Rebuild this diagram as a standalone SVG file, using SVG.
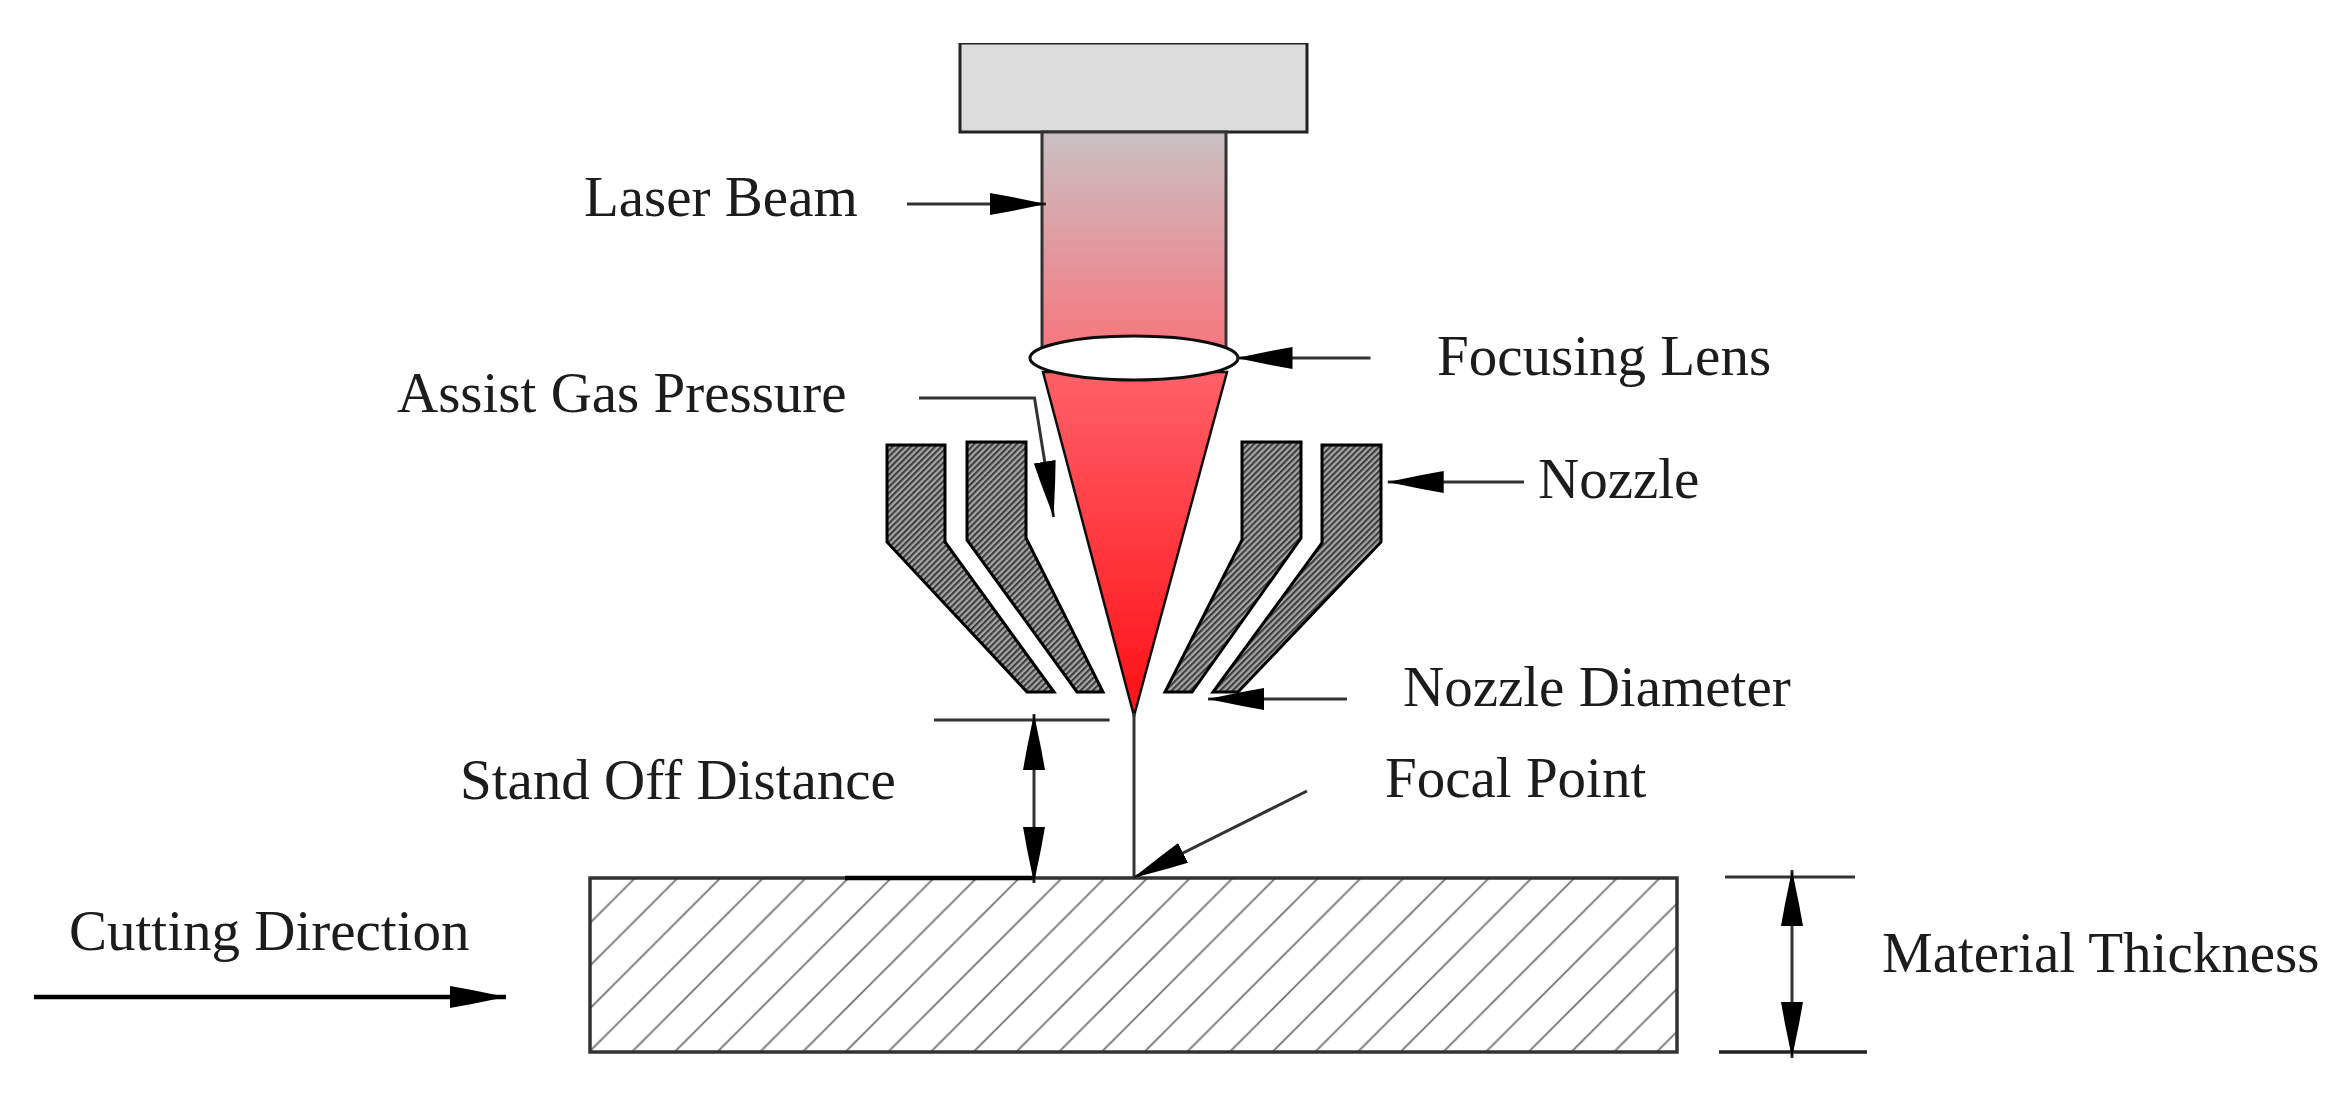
<svg xmlns="http://www.w3.org/2000/svg" width="2348" height="1113" viewBox="0 0 2348 1113">
<style>
text{font-family:"Liberation Serif","Times New Roman",serif;font-size:57px;fill:#1a1a1a}
.ln{fill:none;stroke:#333;stroke-width:3}
.hv{stroke:#000;stroke-width:4.500}
.md{stroke:#222;stroke-width:3.500}
.ar{marker-end:url(#ah)}
.db{marker-start:url(#ahs);marker-end:url(#ah)}
.noz{fill:url(#nh);stroke:#000;stroke-width:3}
</style>
<defs>
<filter id="soft" x="0" y="0" width="100%" height="100%" filterUnits="objectBoundingBox"><feGaussianBlur stdDeviation="0.7"/></filter>
<marker id="ah" markerUnits="userSpaceOnUse" markerWidth="58" markerHeight="26" refX="56" refY="13" orient="auto"><path d="M0 2V24L22 20L56 13L22 6Z" fill="#000"/></marker>
<marker id="ahs" markerUnits="userSpaceOnUse" markerWidth="58" markerHeight="26" refX="2" refY="13" orient="auto"><path d="M58 2V24L36 20L2 13L36 6Z" fill="#000"/></marker>
<linearGradient id="beam" x1="0" y1="0" x2="0" y2="1"><stop offset="0" stop-color="#c9c1c5"/><stop offset="1" stop-color="#f9737a"/></linearGradient>
<linearGradient id="cone" x1="0" y1="0" x2="0" y2="1"><stop offset="0" stop-color="#ff6068"/><stop offset="1" stop-color="#ff1015"/></linearGradient>
<pattern id="nh" patternUnits="userSpaceOnUse" width="4.300" height="4.300" patternTransform="rotate(-45)"><rect width="4.300" height="4.300" fill="#a6a6a6"/><rect width="4.300" height="2.100" fill="#3e3e3e"/></pattern>
<pattern id="mh" patternUnits="userSpaceOnUse" width="42.700" height="42.700"><path d="M-1 19.500L19.500 -1M-1 62.200L62.200 -1" stroke="#777" stroke-width="1.800" fill="none"/></pattern>
</defs>
<rect width="2348" height="1113" fill="#fff"/>
<g filter="url(#soft)">
<g id="laser-head"><rect x="960" y="43" width="347" height="89" fill="#dcdcdc" stroke="#222" stroke-width="3"/></g>
<g id="laser-beam"><rect x="1042" y="132" width="184" height="226" fill="url(#beam)" stroke="#333" stroke-width="3"/></g>
<g id="focused-beam"><path d="M1043 372L1227 372L1134 716Z" fill="url(#cone)" stroke="#111" stroke-width="2.500"/></g>
<g id="focusing-lens"><ellipse cx="1134" cy="358" rx="104" ry="22" fill="#fff" stroke="#111" stroke-width="3"/></g>
<g id="nozzle">
<path class="noz" d="M887 445H945V542L1054 692H1027L887 542Z"/>
<path class="noz" d="M967 442H1026V538L1103 692H1077L967 540Z"/>
<path class="noz" d="M1242 442H1301V538L1192 692H1165L1242 540Z"/>
<path class="noz" d="M1322 445H1381V542L1238 692H1213L1322 543Z"/>
</g>
<g id="material"><rect x="590" y="878" width="1087" height="174" fill="url(#mh)" stroke="#333" stroke-width="3.500"/></g>
<g id="connectors">
<path class="ln" d="M1134 713V878"/>
<path class="ln ar" d="M907 204H1046"/>
<path class="ln ar" d="M1370.500 358H1236.500"/>
<path class="ln ar" d="M919 398H1034.500L1053.600 517"/>
<path class="ln ar" d="M1524 482H1387.700"/>
<path class="ln ar" d="M1347 699H1208"/>
<path class="ln" d="M934 720H1109.500"/>
<path class="ln hv" d="M845 878H1034"/>
<path class="ln db" d="M1034 714V883"/>
<path class="ln ar" d="M1307 791L1133 878"/>
<path class="ln" d="M1725 877H1855"/>
<path class="ln md" d="M1719 1052H1867"/>
<path class="ln db" d="M1792 870V1058"/>
<path class="ln hv ar" d="M34 997H506"/>
</g>
<g id="labels">
<text x="584" y="216">Laser Beam</text>
<text x="1437" y="375">Focusing Lens</text>
<text x="397" y="412">Assist Gas Pressure</text>
<text x="1538" y="498">Nozzle</text>
<text x="1403" y="706">Nozzle Diameter</text>
<text x="460" y="799">Stand Off Distance</text>
<text x="1385" y="797">Focal Point</text>
<text x="69" y="950">Cutting Direction</text>
<text x="1882" y="972">Material Thickness</text>
</g>
</g>
</svg>
